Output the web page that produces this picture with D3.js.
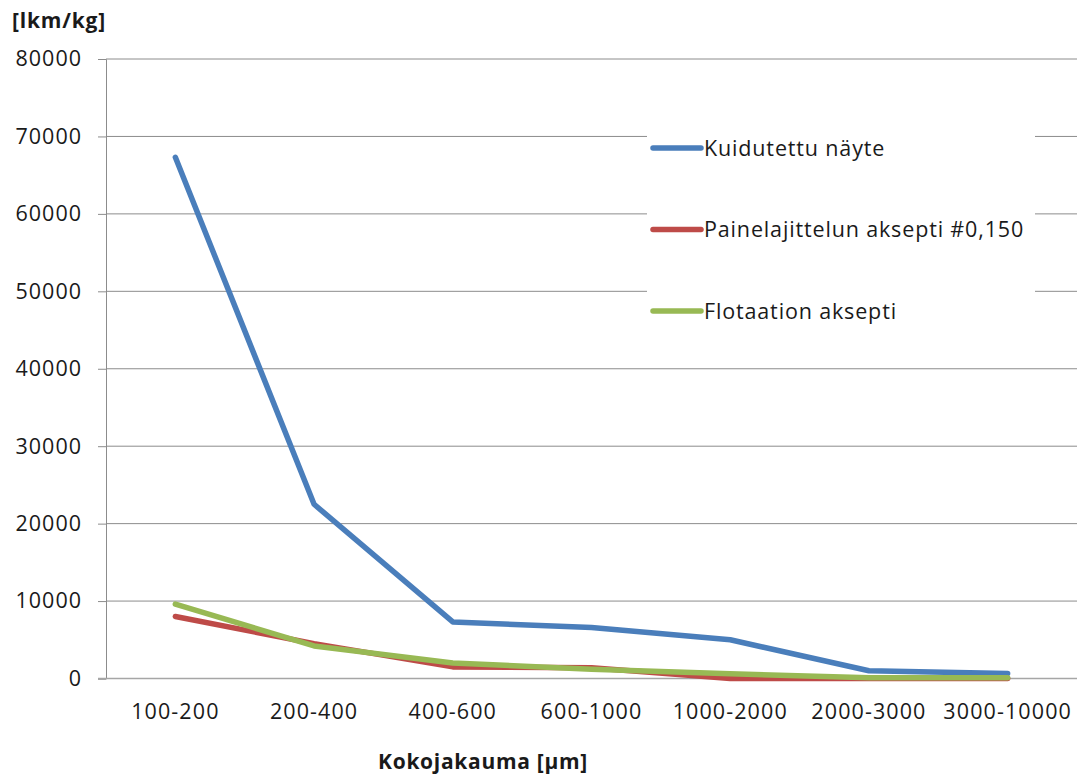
<!DOCTYPE html>
<html>
<head>
<meta charset="utf-8">
<script src="https://cdn.jsdelivr.net/npm/d3@7"></script>
<style>
  html, body { margin: 0; padding: 0; background: #fff; }
  svg { display: block; }
  text { font-family: "Open Sans", "Noto Sans", sans-serif; fill: #1a1a1a; }
</style>
</head>
<body>
<svg id="chart" width="1087" height="778"></svg>
<script>
// Size classes along the x axis
const categories = ["100-200", "200-400", "400-600", "600-1000", "1000-2000", "2000-3000", "3000-10000"];

// Particle counts per kilogram for each sample
const kuidutettu = [67300, 22500, 7300, 6600, 5000, 1000, 650];
const painelajittelu = [8000, 4500, 1500, 1400, 0, 0, 0];
const flotaatio = [9600, 4200, 2000, 1200, 600, 100, 100];

const seriesNames = ["Kuidutettu näyte", "Painelajittelun aksepti #0,150", "Flotaation aksepti"];
const seriesColors = ["#4a7ebb", "#be4b48", "#98b954"];

const yTicks = [0, 10000, 20000, 30000, 40000, 50000, 60000, 70000, 80000];
const yTitle = "[lkm/kg]";
const xTitle = "Kokojakauma [µm]";

const series = [kuidutettu, painelajittelu, flotaatio].map((values, i) => ({
  name: seriesNames[i], color: seriesColors[i], values
}));

const svg = d3.select("#chart");
const plot = { left: 106, right: 1077, top: 59, bottom: 678.5 };

const x = d3.scaleBand().domain(categories).range([plot.left, plot.right]);
const y = d3.scaleLinear().domain([0, 80000]).range([plot.bottom, plot.top]);

// Horizontal gridlines
svg.append("g")
  .selectAll("line")
  .data(yTicks.filter(t => t > 0))
  .join("line")
  .attr("x1", plot.left).attr("x2", plot.right)
  .attr("y1", d => y(d)).attr("y2", d => y(d))
  .attr("stroke", "#8c8c8c").attr("stroke-width", 1);

// Y axis with outward ticks
const yAxis = svg.append("g")
  .attr("transform", `translate(${plot.left},0)`)
  .call(d3.axisLeft(y).tickValues(yTicks).tickSize(8).tickPadding(16).tickFormat(d3.format("d")));
yAxis.select(".domain").attr("stroke", "#8c8c8c");
yAxis.selectAll(".tick line").attr("stroke", "#8c8c8c");
yAxis.selectAll(".tick text")
  .attr("font-size", 21.5).attr("fill", "#1a1a1a")
  .attr("letter-spacing", 1)
  .style("font-family", "'Open Sans', sans-serif");

// X axis without category ticks
const xAxis = svg.append("g")
  .attr("transform", `translate(0,${plot.bottom})`)
  .call(d3.axisBottom(x).tickSize(0).tickPadding(25));
xAxis.select(".domain").attr("stroke", "#a6a6a6").attr("stroke-width", 1.5)
  .attr("d", `M${plot.left - 8},0H${plot.right}`);
xAxis.selectAll(".tick text")
  .attr("font-size", 21.5).attr("fill", "#1a1a1a")
  .attr("letter-spacing", 1.1)
  .style("font-family", "'Open Sans', sans-serif");

// Series lines
const line = d3.line()
  .x((d, i) => x(categories[i]) + x.bandwidth() / 2)
  .y(d => y(d));

svg.append("g")
  .selectAll("path")
  .data(series)
  .join("path")
  .attr("d", d => line(d.values))
  .attr("fill", "none")
  .attr("stroke", d => d.color)
  .attr("stroke-width", 5.5)
  .attr("stroke-linecap", "round")
  .attr("stroke-linejoin", "round");

// Legend
const legend = svg.append("g");
legend.append("rect")
  .attr("x", 647).attr("y", 128).attr("width", 388).attr("height", 200)
  .attr("fill", "#fff");
const items = legend.selectAll("g.item")
  .data(series)
  .join("g")
  .attr("class", "item")
  .attr("transform", (d, i) => `translate(653,${148 + i * 81.5})`);
items.append("line")
  .attr("x1", 0).attr("x2", 48)
  .attr("stroke", d => d.color).attr("stroke-width", 5.5)
  .attr("stroke-linecap", "round");
items.append("text")
  .attr("x", 51).attr("dy", "0.35em")
  .attr("font-size", 21.5)
  .attr("letter-spacing", 0.85)
  .text(d => d.name);

// Axis titles
svg.append("text")
  .attr("x", 12).attr("y", 28)
  .attr("font-size", 21).attr("font-weight", "bold")
  .attr("letter-spacing", 0.8)
  .text(yTitle);
svg.append("text")
  .attr("x", 483).attr("y", 769)
  .attr("text-anchor", "middle")
  .attr("font-size", 21).attr("font-weight", "bold")
  .attr("letter-spacing", 0.7)
  .text(xTitle);
</script>
</body>
</html>
